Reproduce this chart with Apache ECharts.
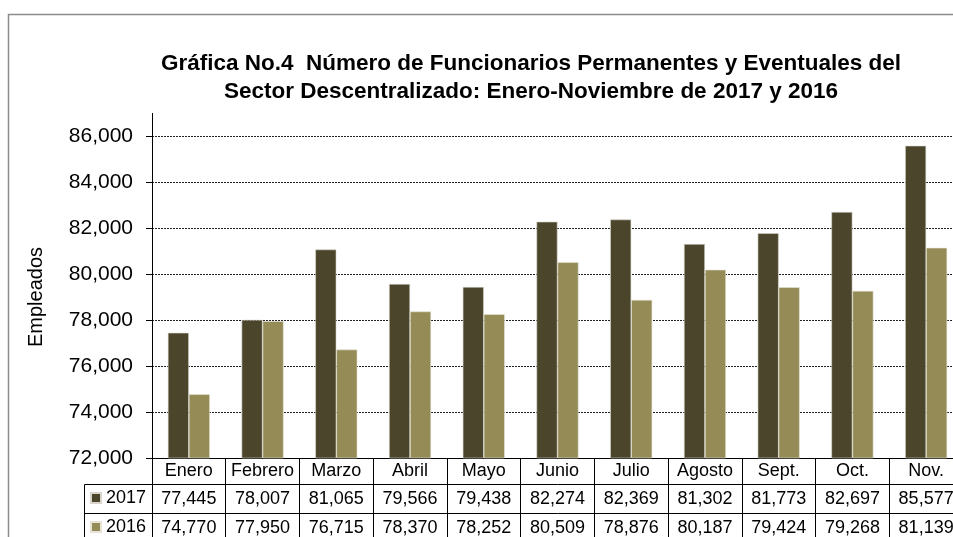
<!DOCTYPE html>
<html>
<head>
<meta charset="utf-8">
<script src="https://cdn.jsdelivr.net/npm/echarts@6/dist/echarts.min.js"></script>
<style>
  html, body { margin: 0; padding: 0; background: #fff; overflow: hidden; }
  /* the original chart is cut off at the right edge, so the canvas is wider than the window */
  #chart { width: 980px; height: 537px; }
</style>
</head>
<body>
<div id="chart"></div>
<script>
var months = ["Enero", "Febrero", "Marzo", "Abril", "Mayo", "Junio", "Julio", "Agosto", "Sept.", "Oct.", "Nov."];
var values2017 = [77445, 78007, 81065, 79566, 79438, 82274, 82369, 81302, 81773, 82697, 85577];
var values2016 = [74770, 77950, 76715, 78370, 78252, 80509, 78876, 80187, 79424, 79268, 81139];
var yTicks = { min: 72000, max: 86000, step: 2000 };

var FONT = "'Liberation Sans', Arial, sans-serif";
var dark = "#4a452b";
var olive = "#948b56";

function fmt(v) {
  return v.toLocaleString("en-US");
}

// table rows under the axis are extra category axes with an offset
function tableAxis(data, offset, tickLen) {
  return {
    type: "category",
    position: "bottom",
    offset: offset,
    data: data,
    axisLine: { show: true, lineStyle: { color: "#000", width: 1 } },
    axisTick: { show: true, interval: 0, length: tickLen, lineStyle: { color: "#000" } },
    axisLabel: { interval: 0, color: "#000", fontSize: 18, fontFamily: FONT, margin: 6 },
    splitLine: { show: false }
  };
}

var chart = echarts.init(document.getElementById("chart"));

var option = {
  animation: false,
  backgroundColor: "#fff",
  title: {
    text: "Gráfica No.4  Número de Funcionarios Permanentes y Eventuales del\nSector Descentralizado: Enero-Noviembre de 2017 y 2016",
    left: 526,
    top: 45,
    textAlign: "center",
    textStyle: { fontFamily: FONT, fontSize: 22.5, fontWeight: "bold", color: "#000", lineHeight: 28 }
  },
  legend: {
    orient: "vertical",
    left: 90,
    top: 489,
    padding: 0,
    itemGap: 11,
    itemWidth: 10,
    itemHeight: 10,
    icon: "rect",
    textStyle: { fontFamily: FONT, fontSize: 18, color: "#000" },
    data: ["2017", "2016"]
  },
  grid: { left: 152, top: 136, right: 17, bottom: 79, containLabel: false },
  xAxis: [
    {
      type: "category",
      position: "bottom",
      data: months,
      axisLine: { show: true, lineStyle: { color: "#000", width: 1 } },
      axisTick: { show: true, interval: 0, length: 26, lineStyle: { color: "#000" } },
      axisLabel: { interval: 0, color: "#000", fontSize: 18, fontFamily: FONT, margin: 4 },
      splitLine: { show: false }
    },
    tableAxis(values2017.map(fmt), 26, 29),
    tableAxis(values2016.map(fmt), 55, 30)
  ],
  yAxis: {
    type: "value",
    min: yTicks.min,
    max: yTicks.max,
    interval: yTicks.step,
    name: "Empleados",
    nameLocation: "middle",
    nameRotate: 90,
    nameGap: 106,
    nameTextStyle: { fontFamily: FONT, fontSize: 20, color: "#000" },
    axisLine: { show: true, lineStyle: { color: "#000", width: 1 } },
    axisTick: { show: true, length: 6, lineStyle: { color: "#000" } },
    axisLabel: {
      color: "#000",
      fontSize: 21,
      fontFamily: FONT,
      margin: 19,
      formatter: function (v) { return fmt(v); }
    },
    splitLine: { show: true, lineStyle: { color: "#222", width: 1, type: [2, 1] } }
  },
  series: [
    {
      name: "2017",
      type: "bar",
      xAxisIndex: 0,
      data: values2017,
      barGap: "0%",
      barCategoryGap: "43%",
      itemStyle: { color: dark, borderColor: "#d8d6cc", borderWidth: 0.6 }
    },
    {
      name: "2016",
      type: "bar",
      xAxisIndex: 0,
      data: values2016,
      barGap: "0%",
      barCategoryGap: "43%",
      itemStyle: { color: olive, borderColor: "#e6e3d6", borderWidth: 0.6 }
    }
  ],
  graphic: [
    // outer chart frame
    { type: "rect", shape: { x: 8.5, y: 14.5, width: 1000, height: 600 }, style: { fill: null, stroke: "#8c8c8c", lineWidth: 1.5 }, silent: true },
    // plot area frame continues above the top gridline
    { type: "line", shape: { x1: 152.5, y1: 113, x2: 152.5, y2: 137 }, style: { stroke: "#000", lineWidth: 1 }, silent: true },
    // header cells of the data table
    { type: "line", shape: { x1: 84.5, y1: 484.5, x2: 152.5, y2: 484.5 }, style: { stroke: "#000", lineWidth: 1 }, silent: true },
    { type: "line", shape: { x1: 84.5, y1: 513.5, x2: 152.5, y2: 513.5 }, style: { stroke: "#000", lineWidth: 1 }, silent: true },
    { type: "line", shape: { x1: 84.5, y1: 484.5, x2: 84.5, y2: 540 }, style: { stroke: "#000", lineWidth: 1 }, silent: true }
  ]
};

chart.setOption(option);
</script>
</body>
</html>
